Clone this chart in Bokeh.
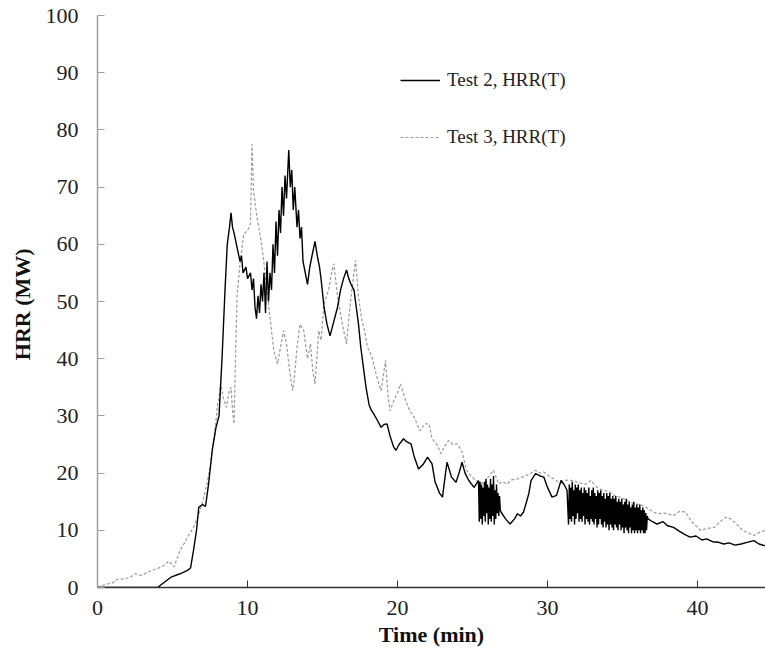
from bokeh.plotting import figure
from bokeh.models import Legend, LegendItem, Range1d, FixedTicker
from bokeh.embed import file_html
from bokeh.resources import INLINE

# Test 2, HRR(T)  (time in min, HRR in MW)
t2_time = [0, 4.0, 4.5, 4.9, 5.5, 6.0, 6.2, 6.4, 6.6, 6.75, 7.0, 7.2, 7.4, 7.65, 7.9, 8.1, 8.3, 8.5, 8.65, 8.8,
           8.9, 9.0, 9.1, 9.3, 9.5, 9.6, 9.7, 9.9, 10.0, 10.2, 10.3, 10.4, 10.5, 10.6, 10.7, 10.8, 10.9, 11.0, 11.1, 11.2,
           11.3, 11.4, 11.5, 11.6, 11.7, 11.8, 11.9, 12.0, 12.1, 12.2, 12.3, 12.4, 12.5, 12.6, 12.75, 12.85, 12.95, 13.05, 13.15, 13.3,
           13.4, 13.5, 13.6, 13.7, 13.85, 14.0, 14.15, 14.3, 14.5, 14.65, 14.8, 14.9, 15.1, 15.3, 15.5, 15.7, 16.0, 16.2, 16.4, 16.6,
           16.75, 16.9, 17.1, 17.25, 17.4, 17.55, 17.75, 17.9, 18.1, 18.25, 18.4, 18.6, 18.9, 19.1, 19.3, 19.5, 19.75, 19.9, 20.1, 20.4,
           20.6, 20.9, 21.1, 21.4, 21.7, 22.0, 22.3, 22.5, 22.8, 23.0, 23.15, 23.3, 23.6, 23.9, 24.1, 24.3, 24.5, 24.75, 25.1, 25.4,
           25.45, 25.5, 25.55, 25.6, 25.65, 25.7, 25.75, 25.8, 25.85, 25.9, 25.95, 26.0, 26.05, 26.1, 26.15,
           26.2, 26.25, 26.3, 26.35, 26.4, 26.45, 26.5, 26.55, 26.6, 26.65, 26.7, 26.75, 26.8, 26.85, 26.9,
           27.2, 27.5, 27.8, 28.0, 28.2, 28.4, 28.6, 28.75, 28.9, 29.2, 29.5, 29.75, 30.0, 30.3, 30.6, 30.9, 31.1, 31.3,
           31.40, 31.45, 31.50, 31.55, 31.60, 31.65, 31.70, 31.75, 31.80, 31.85, 31.90, 31.95, 32.00, 32.05, 32.10, 32.15,
           32.20, 32.25, 32.30, 32.35, 32.40, 32.45, 32.50, 32.55, 32.60, 32.65, 32.70, 32.75, 32.80, 32.85, 32.90, 32.95,
           33.00, 33.05, 33.10, 33.15, 33.20, 33.25, 33.30, 33.35, 33.40, 33.45, 33.50, 33.55, 33.60, 33.65, 33.70, 33.75,
           33.80, 33.85, 33.90, 33.95, 34.00, 34.05, 34.10, 34.15, 34.20, 34.25, 34.30, 34.35, 34.40, 34.45, 34.50, 34.55,
           34.60, 34.65, 34.70, 34.75, 34.80, 34.85, 34.90, 34.95, 35.00, 35.05, 35.10, 35.15, 35.20, 35.25, 35.30, 35.35,
           35.40, 35.45, 35.50, 35.55, 35.60, 35.65, 35.70, 35.75, 35.80, 35.85, 35.90, 35.95, 36.00, 36.05, 36.10, 36.15,
           36.20, 36.25, 36.30, 36.35, 36.40, 36.45, 36.50, 36.55, 36.60, 36.65, 36.70,
           37.0, 37.3, 37.7, 38.0, 38.4, 38.8, 39.2, 39.5, 39.9, 40.3,
           40.6, 41.0, 41.4, 41.75, 42.1, 42.5, 42.9, 43.3, 43.75, 44.1, 44.5]
t2_hrr = [0, 0, 1.0, 1.8, 2.4, 3.0, 3.4, 6.5, 10, 14, 14.5, 14.2, 18, 24, 28, 30, 40, 52, 60, 63,
          65.5, 63, 62, 59.5, 57, 58, 55, 56, 54, 55, 52, 54, 49, 47, 51, 48, 53, 50, 55, 48,
          57, 50, 55, 52, 60, 55, 64, 58, 66, 62, 70, 65, 72, 68, 76.5, 70, 73, 66, 70, 63,
          66, 61, 63, 57, 55, 53, 56, 58, 60.5, 58, 56, 54, 49, 46, 44, 46, 49, 52, 54, 55.5,
          54, 53, 52, 49, 46, 42, 38, 35, 32, 31, 30.4, 29.5, 28, 28.5, 28.6, 26.5, 24.5, 24, 25, 26,
          25.5, 25.1, 23, 20.7, 21.5, 22.8, 21.6, 18.5, 16.5, 15.8, 19, 21.9, 19.3, 18.4, 20, 21.9, 20, 18.7, 17.5, 18.7,
          11.5, 18.5, 12, 18, 11, 17.5, 12.5, 18.5, 11.5, 19, 13, 18, 11, 17.5, 12,
          19, 11.5, 18, 12.5, 19.5, 11, 17, 12, 18, 13, 16.5, 12.5, 16, 13.5, 13.2,
          12, 11.1, 12, 12.9, 12.5, 13.2, 15, 16.4, 18.7, 19.9, 19.5, 19.3, 17.5, 15.8, 16.1, 18.7, 18, 17,
          11.0, 18.0, 12.0, 17.5, 11.5, 18.5, 12.5, 17.0, 11.0, 18.0, 12.0, 17.5, 13.0, 18.0, 11.5, 17.0,
          12.0, 17.5, 11.5, 16.5, 12.5, 17.5, 11.0, 17.0, 12.0, 16.5, 11.5, 17.5, 11.0, 16.0, 12.0, 17.0,
          11.5, 17.5, 11.0, 16.5, 12.0, 16.0, 10.5, 17.0, 11.0, 16.5, 12.0, 17.0, 11.0, 16.0, 10.5, 16.5,
          11.5, 15.5, 10.5, 16.5, 11.0, 16.0, 10.0, 16.5, 11.0, 15.5, 10.5, 16.0, 10.0, 15.5, 11.0, 16.0,
          10.5, 15.0, 10.0, 15.5, 11.0, 15.0, 10.0, 15.5, 10.5, 14.5, 9.5, 15.0, 10.5, 15.5, 10.0, 14.5,
          9.5, 15.0, 10.5, 14.0, 9.5, 14.5, 10.0, 15.0, 9.5, 14.0, 10.0, 14.5, 9.5, 14.0, 10.0, 14.5,
          9.5, 13.5, 10.0, 14.0, 9.5, 13.5, 9.5, 13.0, 10.0, 12.5, 12.0,
          11.5, 11.1, 11.5, 10.8, 10.5, 9.8, 9.2, 8.8, 9, 8.3,
          8.5, 8, 7.9, 7.6, 7.8, 7.4, 7.6, 7.9, 8.2, 7.6, 7.3]

# Test 3, HRR(T)
t3_time = [0, 0.3, 0.64, 1.0, 1.3, 1.75, 2.2, 2.5, 2.9, 3.3, 3.6, 4.0, 4.4, 4.75, 5.1, 5.3, 5.5, 5.8, 6.0, 6.4,
           6.7, 6.9, 7.1, 7.3, 7.5, 7.65, 7.8, 7.9, 8.0, 8.1, 8.2, 8.4, 8.6, 8.75, 8.9, 9.0, 9.1, 9.2, 9.3, 9.5,
           9.75, 10.0, 10.2, 10.3, 10.4, 10.6, 10.9, 11.1, 11.3, 11.5, 11.75, 12.0, 12.2, 12.4, 12.6, 12.8, 13.0, 13.1, 13.3, 13.5,
           13.75, 14.0, 14.2, 14.35, 14.5, 14.75, 14.9, 15.1, 15.4, 15.6, 15.75, 16.0, 16.2, 16.4, 16.6, 16.75, 16.9, 17.05, 17.2, 17.4,
           17.6, 17.8, 18.0, 18.3, 18.6, 18.9, 19.05, 19.2, 19.35, 19.5, 19.8, 20.0, 20.2, 20.5, 20.8, 21.1, 21.5, 21.8, 22.1, 22.3,
           22.6, 22.9, 23.1, 23.4, 23.7, 24.0, 24.3, 24.6, 24.9, 25.2, 25.5, 25.75, 26.1, 26.4, 26.75, 27.0, 27.3, 27.6, 28.0, 28.3,
           28.6, 28.9, 29.2, 29.5, 29.75, 30.1, 30.4, 30.7, 31.1, 31.5, 32.0, 32.5, 32.9, 33.3, 33.7, 34.1, 34.5, 34.9, 35.3, 35.8,
           36.2, 36.6, 37.0, 37.3, 37.8, 38.4, 38.8, 39.2, 39.6, 40.0, 40.2, 40.6, 41.1, 41.5, 41.9, 42.2, 42.6, 43.0, 43.4, 43.75,
           44.1, 44.5]
t3_hrr = [0, 0.3, 0.6, 0.8, 1.4, 1.5, 1.8, 2.4, 2.1, 2.6, 3.0, 3.3, 3.8, 4.6, 3.6, 5, 6.5, 7.8, 8.8, 10.5,
          12.5, 14, 16, 18.1, 21, 24, 27, 29.2, 32, 33, 35.6, 33, 31.5, 34, 35, 31, 28.6, 40, 50.8, 56.6,
          61.8, 62.4, 63.6, 77.5, 69.4, 65.3, 60.7, 56.6, 51.9, 47.3, 41.4, 39.1, 42, 44.9, 42.6, 38, 34.4, 36, 42, 46,
          44.9, 40, 42.6, 38, 35.6, 44.9, 43.2, 49.6, 52, 55, 56.6, 51, 47.8, 45, 42.6, 47, 50.8, 54, 57.2, 50.8,
          47, 44.9, 42, 40.3, 37, 34.4, 37, 39.7, 34, 30.9, 33, 34, 35.6, 33, 31, 29.8, 27.4, 28.6, 28.6, 26,
          25.1, 23.4, 24.5, 25.7, 25, 25.1, 23.7, 20.5, 19.5, 18.7, 18.4, 18.1, 19.5, 20.5, 18.1, 18.5, 18.1, 18.8, 19, 19.3,
          19.6, 20, 20.5, 20, 20.2, 19.5, 19, 18.5, 18.7, 18.8, 18.4, 18, 18.7, 17.5, 17, 16.8, 16, 15.8, 15.2, 14.6,
          14.5, 14, 13.3, 12.9, 13, 12.6, 13.3, 13.2, 11.5, 10.5, 10, 10.3, 10.5, 11.5, 12.3, 12, 11.1, 10, 9.5, 9.1,
          9.6, 10]

x_ticks = [0, 10, 20, 30, 40]
y_ticks = [0, 10, 20, 30, 40, 50, 60, 70, 80, 90, 100]
series_labels = ["Test 2, HRR(T)", "Test 3, HRR(T)"]

SERIF = "Liberation Serif"

p = figure(width=765, height=658, output_backend="svg", toolbar_location=None,
           x_range=Range1d(0, 44.53), y_range=Range1d(0, 100),
           min_border_left=97, min_border_right=0, min_border_top=15, min_border_bottom=71)
p.outline_line_color = None
p.grid.visible = False
p.background_fill_color = "white"

r3 = p.line(t3_time, t3_hrr, line_color="#9a9a9a", line_width=1.2, line_dash="3 2")
r2 = p.line(t2_time, t2_hrr, line_color="black", line_width=1.4)

# axes
p.xaxis.ticker = FixedTicker(ticks=x_ticks)
p.yaxis.ticker = FixedTicker(ticks=y_ticks)
for ax in (p.xaxis, p.yaxis):
    ax.major_tick_in = 7
    ax.major_tick_out = 0
    ax.minor_tick_line_color = None
    ax.major_label_text_font = SERIF
    ax.major_label_text_font_size = "22px"
    ax.major_label_text_color = "#222222"
    ax.axis_label_text_font = SERIF
    ax.axis_label_text_font_style = "bold"
    ax.axis_label_text_font_size = "22px"
    ax.axis_label_text_color = "#111111"

p.xaxis.axis_line_color = "#333333"
p.xaxis.major_tick_line_color = "#333333"
p.xaxis.axis_line_width = 1.5
p.xaxis.major_label_standoff = 13
p.xaxis.axis_label = "Time (min)"
p.xaxis.axis_label_standoff = 4

p.yaxis.axis_line_color = "#a0a0a0"
p.yaxis.major_tick_line_color = "#a0a0a0"
p.yaxis.axis_line_width = 1.5
p.yaxis.major_label_standoff = 19
p.yaxis.axis_label = "HRR  (MW)"
p.yaxis.axis_label_standoff = 8

legend = Legend(items=[LegendItem(label=series_labels[0], renderers=[r2]),
                       LegendItem(label=series_labels[1], renderers=[r3])],
                location=(303, 439), orientation="vertical")
legend.border_line_color = None
legend.background_fill_alpha = 0
legend.padding = 0
legend.margin = 0
legend.glyph_width = 40
legend.glyph_height = 20
legend.label_height = 20
legend.spacing = 35
legend.label_standoff = 7
legend.label_text_font = SERIF
legend.label_text_font_size = "19px"
legend.label_text_color = "#222222"
p.add_layout(legend, "center")

open("out.html", "w").write(file_html(p, INLINE))
